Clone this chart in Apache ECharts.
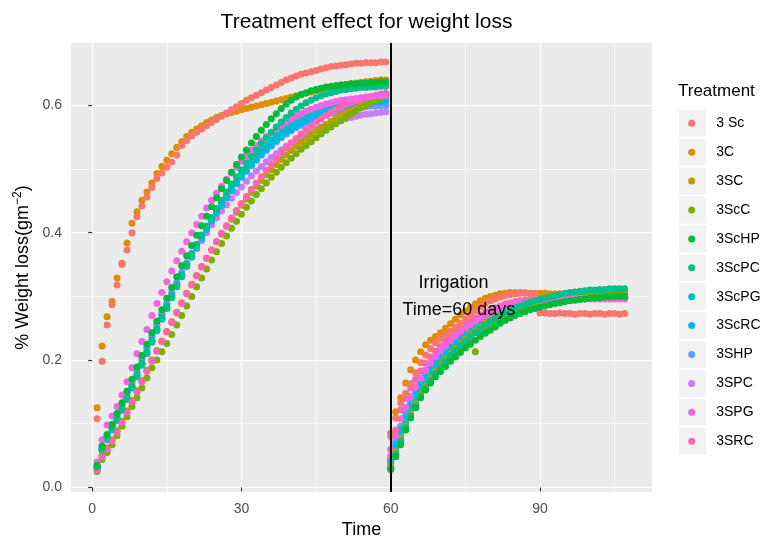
<!DOCTYPE html>
<html><head><meta charset="utf-8">
<script src="https://cdn.jsdelivr.net/npm/echarts@6/dist/echarts.min.js"></script>
<style>html,body{margin:0;padding:0;background:#fff}#c{width:763px;height:536px}</style>
</head><body><div id="c"></div>
<script>
const days = [1,2,3,4,5,6,7,8,9,10,11,12,13,14,15,16,17,18,19,20,21,22,23,24,25,26,27,28,29,30,31,32,33,34,35,36,37,38,39,40,41,42,43,44,45,46,47,48,49,50,51,52,53,54,55,56,57,58,59,
60,61,62,63,64,65,66,67,68,69,70,71,72,73,74,75,76,77,78,79,80,81,82,83,84,85,86,87,88,89,90,91,92,93,94,95,96,97,98,99,100,101,102,103,104,105,106,107];

const treatments = ['3 Sc','3C','3SC','3ScC','3ScHP','3ScPC','3ScPG','3ScRC','3SHP','3SPC','3SPG','3SRC'];
const colors = ['#F8766D','#DE8C00','#B79F00','#7CAE00','#00BA38','#00C08B','#00BFC4','#00B4F0','#619CFF','#C77CFF','#F564E3','#FF64B0'];

const w3Sc = [.108,.198,.255,.287,.318,.350,.373,.400,.425,.442,.456,.471,.485,.494,.503,.511,.522,.537,.545,.552,.558,.563,.568,.573,.578,.583,.588,.593,.598,.603,.608,.612,.616,.620,.624,.628,.632,.636,.640,.643,.646,.649,.651,.653,.655,.657,.659,.661,.662,.663,.664,.665,.666,.666,.667,.667,.667,.668,.668,
.080,.109,.133,.148,.163,.180,.196,.208,.218,.227,.234,.240,.245,.252,.258,.265,.271,.278,.284,.289,.293,.296,.299,.301,.303,.304,.305,.305,.305,.304,
.274,.274,.273,.273,.274,.273,.273,.272,.273,.273,.272,.273,.273,.272,.273,.273,.272,.273];
const w3C = [.125,.222,.268,.292,.329,.352,.384,.415,.433,.451,.464,.478,.493,.504,.514,.524,.534,.543,.551,.558,.563,.568,.573,.577,.581,.584,.587,.589,.591,.593,.595,.597,.599,.601,.603,.605,.607,.609,.611,.613,.615,.617,.619,.621,.623,.625,.627,.629,.631,.632,.633,.634,.635,.636,.637,.638,.639,.640,.640,
.085,.119,.141,.164,.185,.200,.213,.224,.231,.237,.243,.250,.257,.264,.271,.277,.283,.288,.293,.297,.300,.302,.304,.305,.306,.306,.306,.306,.305,.305,
.305,.305,.304,.304,.304,.304,.304,.303,.303,.303,.303,.303,.303,.303,.303,.303,.303,.303];
const w3SC = [.028,.050,.062,.075,.089,.104,.120,.136,.152,.168,.184,.200,.215,.230,.245,.260,.275,.290,.305,.319,.333,.347,.360,.373,.386,.398,.410,.421,.432,.443,.453,.463,.473,.482,.491,.499,.507,.515,.522,.529,.536,.542,.548,.554,.560,.565,.570,.575,.580,.584,.588,.592,.596,.600,.603,.606,.609,.612,.615,
.034,.056,.077,.097,.115,.131,.146,.159,.171,.182,.192,.201,.210,.218,.226,.233,.240,.246,.252,.258,.263,.268,.272,.276,.280,.283,.286,.289,.291,.293,
.295,.297,.298,.299,.300,.301,.302,.302,.302,.303,.303,.303,.303,.303,.303,.303,.303,.303];
const w3ScC = [.025,.044,.055,.067,.081,.096,.111,.127,.141,.156,.172,.188,.200,.213,.226,.240,.255,.270,.285,.300,.315,.329,.343,.357,.370,.383,.395,.407,.418,.429,.440,.450,.460,.469,.478,.487,.495,.503,.510,.517,.524,.531,.537,.543,.549,.555,.561,.566,.571,.576,.581,.586,.591,.596,.600,.604,.608,.612,.616,
.030,.050,.070,.091,.110,.126,.142,.155,.167,.178,.188,.197,.205,.213,.220,.227,.234,.213,.246,.252,.257,.262,.267,.271,.275,.279,.282,.285,.288,.291,
.293,.295,.297,.299,.300,.302,.303,.304,.305,.306,.306,.307,.307,.307,.308,.308,.308,.308];
const w3ScHP = [.035,.065,.083,.099,.116,.133,.151,.170,.189,.207,.225,.243,.261,.279,.297,.314,.331,.348,.364,.380,.396,.411,.426,.441,.455,.469,.482,.495,.507,.519,.530,.541,.551,.561,.570,.579,.587,.595,.602,.608,.613,.617,.620,.623,.625,.627,.629,.630,.631,.632,.633,.634,.634,.635,.635,.636,.636,.637,.637,
.028,.048,.067,.090,.109,.125,.141,.153,.164,.174,.182,.190,.198,.205,.212,.219,.225,.231,.237,.242,.247,.252,.258,.262,.266,.270,.273,.276,.279,.281,
.283,.285,.287,.289,.290,.292,.293,.294,.295,.296,.297,.298,.298,.299,.299,.300,.300,.300];
const w3ScPC = [.032,.060,.078,.093,.108,.124,.141,.159,.177,.195,.213,.231,.249,.267,.284,.301,.318,.334,.350,.366,.381,.396,.410,.424,.438,.451,.464,.476,.488,.499,.510,.520,.530,.540,.549,.558,.566,.574,.581,.588,.594,.599,.604,.608,.612,.615,.618,.620,.622,.624,.625,.626,.627,.628,.628,.629,.629,.630,.630,
.030,.052,.073,.094,.112,.128,.143,.156,.168,.179,.189,.198,.207,.215,.223,.230,.237,.243,.249,.255,.260,.265,.270,.274,.278,.282,.285,.288,.291,.293,
.295,.297,.299,.301,.303,.305,.306,.307,.308,.309,.310,.310,.311,.311,.312,.312,.312,.312];
const w3ScPG = [.031,.059,.077,.092,.107,.123,.140,.158,.176,.194,.212,.230,.248,.265,.282,.299,.316,.332,.348,.363,.378,.393,.407,.420,.433,.446,.458,.470,.481,.492,.502,.512,.521,.530,.538,.546,.553,.560,.566,.572,.577,.582,.586,.590,.594,.597,.600,.602,.604,.606,.607,.608,.609,.610,.611,.611,.612,.612,.613,
.036,.060,.082,.102,.120,.136,.150,.163,.175,.186,.196,.205,.214,.222,.230,.237,.244,.250,.256,.261,.266,.271,.275,.279,.282,.285,.288,.290,.292,.294,
.295,.296,.297,.298,.299,.300,.301,.301,.302,.302,.303,.303,.303,.304,.304,.304,.304,.304];
const w3ScRC = [.030,.058,.075,.090,.105,.121,.138,.156,.174,.192,.210,.228,.246,.264,.281,.298,.315,.331,.347,.362,.377,.391,.405,.418,.431,.443,.455,.466,.477,.487,.497,.506,.515,.523,.531,.538,.545,.551,.557,.562,.567,.572,.576,.580,.584,.587,.590,.593,.595,.597,.599,.601,.602,.603,.604,.605,.606,.606,.607,
.040,.066,.090,.110,.128,.145,.160,.173,.185,.196,.206,.215,.223,.231,.238,.245,.251,.257,.262,.267,.271,.275,.278,.281,.284,.286,.288,.290,.291,.292,
.293,.294,.295,.295,.296,.296,.297,.297,.297,.298,.298,.298,.298,.298,.298,.298,.298,.298];
const w3SHP = [.033,.062,.080,.096,.112,.129,.147,.165,.183,.201,.219,.237,.255,.272,.289,.306,.322,.338,.353,.368,.382,.396,.409,.422,.434,.446,.457,.468,.478,.488,.497,.506,.514,.522,.529,.536,.543,.549,.555,.560,.565,.569,.573,.577,.580,.583,.586,.588,.590,.592,.594,.595,.596,.597,.598,.599,.599,.600,.600,
.045,.072,.096,.117,.135,.152,.167,.180,.192,.203,.213,.222,.230,.238,.245,.252,.258,.263,.268,.272,.276,.280,.283,.286,.288,.290,.292,.293,.294,.295,
.296,.296,.297,.297,.297,.298,.298,.298,.298,.298,.298,.298,.298,.298,.298,.298,.298,.298];
const w3SPC = [.034,.064,.082,.098,.114,.131,.149,.167,.185,.203,.221,.238,.255,.272,.288,.304,.319,.334,.348,.362,.375,.388,.400,.412,.423,.434,.444,.454,.463,.472,.481,.489,.497,.504,.511,.518,.524,.530,.536,.541,.546,.551,.555,.559,.563,.566,.569,.572,.575,.577,.579,.581,.583,.585,.586,.587,.588,.589,.590,
.043,.070,.094,.115,.133,.150,.165,.178,.190,.201,.211,.220,.228,.236,.243,.250,.256,.262,.267,.271,.275,.279,.282,.285,.287,.289,.291,.292,.293,.294,
.295,.295,.296,.296,.296,.297,.297,.297,.297,.297,.297,.297,.297,.297,.297,.297,.297,.297];
const w3SPG = [.040,.075,.098,.112,.127,.145,.166,.188,.210,.229,.248,.270,.289,.306,.323,.340,.356,.371,.386,.400,.413,.426,.439,.451,.462,.473,.484,.494,.503,.512,.521,.529,.537,.544,.551,.557,.563,.569,.574,.579,.583,.587,.591,.594,.597,.600,.602,.604,.606,.608,.609,.610,.611,.612,.613,.614,.615,.615,.616,
.050,.080,.108,.126,.143,.158,.172,.184,.195,.205,.214,.222,.230,.237,.244,.250,.256,.261,.266,.270,.274,.278,.281,.284,.286,.288,.290,.291,.292,.293,
.294,.294,.295,.295,.295,.295,.296,.296,.296,.296,.296,.296,.296,.296,.296,.296,.296,.296];
const w3SRC = [.027,.048,.060,.073,.087,.102,.118,.134,.150,.166,.182,.198,.214,.229,.244,.259,.274,.289,.304,.318,.332,.346,.360,.373,.386,.399,.411,.423,.435,.446,.457,.468,.478,.488,.498,.507,.516,.525,.533,.541,.548,.555,.562,.568,.574,.579,.584,.589,.593,.597,.601,.604,.607,.610,.612,.614,.616,.618,.619,
.060,.090,.122,.140,.156,.170,.183,.195,.205,.214,.222,.230,.237,.244,.250,.256,.261,.266,.271,.275,.279,.282,.285,.288,.290,.292,.293,.294,.295,.296,
.296,.297,.297,.297,.297,.297,.297,.297,.297,.297,.297,.297,.297,.297,.297,.297,.297,.297];

const valuesByName = {'3 Sc':w3Sc,'3C':w3C,'3SC':w3SC,'3ScC':w3ScC,'3ScHP':w3ScHP,'3ScPC':w3ScPC,'3ScPG':w3ScPG,'3ScRC':w3ScRC,'3SHP':w3SHP,'3SPC':w3SPC,'3SPG':w3SPG,'3SRC':w3SRC};
const drawOrder = ['3C','3SPC','3SHP','3ScRC','3ScPG','3SC','3ScC','3SRC','3SPG','3 Sc','3ScPC','3ScHP'];

const xTicks = [0,30,60,90];
const xMinor = [15,45,75,105];
const yTicks = [0,0.2,0.4,0.6];
const yMinor = [0.1,0.3,0.5];
const irrigationDay = 60;
const annotations = [{text:'Irrigation', x:72.6, y:0.321},{text:'Time=60 days', x:73.7, y:0.279}];

const FONT = "'Liberation Sans', Arial, sans-serif";
const chart = echarts.init(document.getElementById('c'), null, {renderer:'canvas'});

const series = drawOrder.map(name => ({
  type:'scatter', name,
  data: days.map((d,i)=>[d, valuesByName[name][i]]),
  symbolSize:7,
  itemStyle:{color: colors[treatments.indexOf(name)], opacity:1},
  emphasis:{disabled:true}, silent:true, z:2
}));
series.push({
  type:'scatter', name:'_annot', data:[], z:5, silent:true,
  markLine:{silent:true, symbol:['none','none'], label:{show:false},
    lineStyle:{color:'#000', width:2, type:'solid'}, emphasis:{disabled:true},
    data:[{xAxis: irrigationDay}]},
  markPoint:{silent:true, symbol:'circle', symbolSize:1, itemStyle:{color:'rgba(0,0,0,0)'},
    label:{show:true, position:'inside', color:'#000', fontSize:18, fontFamily:FONT, formatter: p=>p.name},
    data: annotations.map(a=>({name:a.text, coord:[a.x,a.y]}))}
});

const rowStep = 28.9, firstCenter = 123.3;
const keyRects = treatments.map((t,i)=>({
  type:'rect', z:1, silent:true,
  shape:{x:679, y:firstCenter + i*rowStep - 13.5, width:27, height:27},
  style:{fill:'#F2F2F2'}
}));

chart.setOption({
  animation:false,
  backgroundColor:'#fff',
  textStyle:{fontFamily:FONT},
  title:[
    {text:'Treatment effect for weight loss', left:361.5, textAlign:'center', top:7,
     textStyle:{fontSize:21, fontWeight:'normal', color:'#000', fontFamily:FONT}},
    {text:'Treatment', left:673, top:78,
     textStyle:{fontSize:17, fontWeight:'normal', color:'#000', fontFamily:FONT}}
  ],
  grid:{left:71, right:111, top:43, bottom:44, show:true, backgroundColor:'#EBEBEB', borderWidth:0,
        containLabel:false, outerBoundsMode:'none'},
  xAxis:[
    {type:'value', min:-4.25, max:112.5,
     axisLine:{show:false},
     axisTick:{show:true, length:4, customValues:xTicks, lineStyle:{color:'#333', width:1.1}},
     axisLabel:{show:true, customValues:xTicks, color:'#4D4D4D', fontSize:14, margin:10, fontFamily:FONT},
     splitLine:{show:true, lineStyle:{color:'#fff', width:1.2}},
     name:'Time', nameLocation:'middle', nameGap:21,
     nameTextStyle:{color:'#000', fontSize:18, fontFamily:FONT}},
    {type:'value', min:-4.25, max:112.5, position:'bottom',
     axisLine:{show:false}, axisTick:{show:false, customValues:xMinor}, axisLabel:{show:false},
     splitLine:{show:true, lineStyle:{color:'#fff', width:0.55}}}
  ],
  yAxis:[
    {type:'value', min:-0.0072, max:0.698,
     axisLine:{show:false},
     axisTick:{show:true, length:4, customValues:yTicks, lineStyle:{color:'#333', width:1.1}},
     axisLabel:{show:true, customValues:yTicks, color:'#4D4D4D', fontSize:14, margin:9, fontFamily:FONT,
       formatter: v=>v.toFixed(1)},
     splitLine:{show:true, lineStyle:{color:'#fff', width:1.2}},
     name:'% Weight loss(gm{sup|\u22122})', nameLocation:'middle', nameGap:34,
     nameTextStyle:{color:'#000', fontSize:18, fontFamily:FONT,
       rich:{sup:{fontSize:12, color:'#000', fontFamily:FONT, padding:[0,0,9,0]}}}},
    {type:'value', min:-0.0072, max:0.698, position:'left',
     axisLine:{show:false}, axisTick:{show:false, customValues:yMinor}, axisLabel:{show:false},
     splitLine:{show:true, lineStyle:{color:'#fff', width:0.55}}}
  ],
  legend:{
    orient:'vertical', left:688.2, top:firstCenter - 8, z:5, padding:0,
    data: treatments.map(t=>({name:t, icon:'circle'})),
    itemWidth:7, itemHeight:7, itemGap: rowStep-16,
    selectedMode:false,
    textStyle:{fontSize:14, color:'#000', lineHeight:16, fontFamily:FONT, padding:[0,0,0,16]}
  },
  graphic: keyRects,
  series
});
</script>
</body></html>
